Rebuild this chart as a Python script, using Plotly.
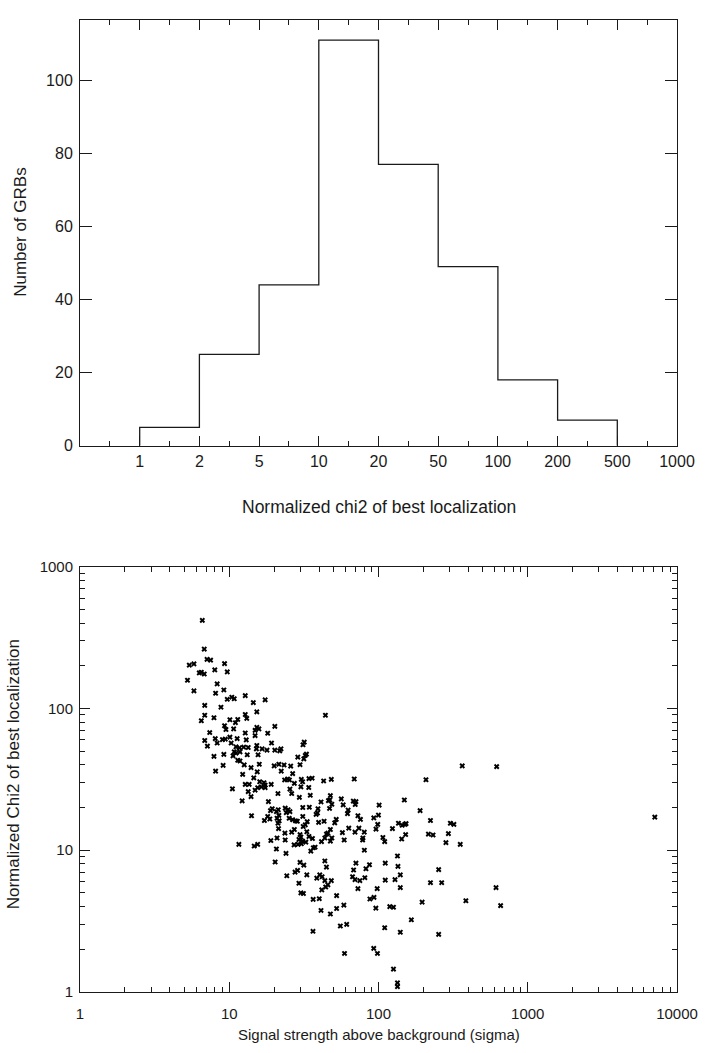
import plotly.graph_objects as go

# ---------------- data: histogram (top panel) ----------------
bin_edges = ["1", "2", "5", "10", "20", "50", "100", "200", "500", "1000"]
counts = [5, 25, 44, 111, 77, 49, 18, 7]

# ---------------- data: scatter (bottom panel) ----------------
signal = [
    6.6, 6.8, 7.1, 7.5, 5.4, 5.8, 9.3, 6.3, 6.5, 6.8,
    8.0, 9.7, 5.25, 8.3, 5.8, 8.1, 9.2, 10.4, 10.8, 9.7,
    12.8, 14.5, 17.4, 6.85, 8.8, 15.3, 6.85, 6.5, 7.9, 12.8,
    13.1, 44.1, 10.1, 11.4, 11.0, 9.3, 9.5, 10.7, 15.3, 15.8,
    14.9, 20.2, 7.4, 12.8, 18.1, 14.9, 8.06, 9.0, 9.4, 10.1,
    11.3, 6.85, 8.3, 10.3, 13.0, 19.2, 31.8, 31.2, 7.14, 11.1,
    11.7, 12.5, 13.4, 15.3, 15.2, 16.6, 17.9, 20.2, 22.2, 21.8,
    10.8, 11.1, 11.8, 13.2, 7.9, 9.2, 10.6, 15.6, 32.9, 32.3,
    28.8, 31.6, 11.4, 11.8, 9.1, 12.6, 14.0, 15.9, 20.0, 21.5,
    23.3, 25.8, 29.8, 8.1, 15.4, 22.3, 26.6, 12.3, 14.6, 23.5,
    24.6, 25.3, 30.4, 31.0, 34.2, 35.9, 42.9, 48.3, 16.0, 17.1,
    17.4, 27.3, 12.8, 13.6, 19.1, 16.4, 15.5, 17.4, 30.2, 34.1,
    25.5, 10.5, 14.9, 13.4, 21.2, 26.2, 14.0, 29.5, 34.9, 47.6,
    47.2, 56.3, 12.2, 18.3, 41.2, 46.2, 31.1, 34.4, 19.4, 18.9,
    21.3, 20.7, 23.7, 24.8, 25.5, 24.1, 39.3, 39.0, 38.2, 47.0,
    48.7, 58.0, 31.1, 18.1, 18.7, 17.2, 14.1, 21.5, 20.9, 21.6,
    21.2, 25.2, 26.6, 27.8, 28.6, 33.3, 32.3, 31.3, 39.7, 43.2,
    52.1, 50.9, 21.4, 47.6, 45.8, 44.8, 57.3, 23.6, 26.2, 27.3,
    29.8, 30.2, 29.3, 33.1, 34.2, 36.1, 20.9, 23.7, 19.0, 31.0,
    32.6, 41.5, 43.7, 48.7, 47.6, 58.9, 11.6, 14.7, 15.5, 27.2,
    28.9, 30.4, 20.7, 36.6, 35.2, 37.6, 24.0, 20.3, 29.8, 31.6,
    43.7, 44.8, 27.6, 28.7, 24.3, 33.1, 40.4, 38.6, 41.9, 43.7,
    45.8, 44.3, 48.3, 29.3, 30.2, 31.4, 41.7, 36.5, 40.1, 52.4,
    58.6, 41.2, 47.6, 52.4, 364, 68.8, 208, 67.8, 70.6, 69.8,
    101, 149, 62.6, 62.0, 190, 72.8, 75.7, 99.9, 93, 223,
    303, 320, 98.8, 96.2, 136, 150, 153, 144, 63.2, 73.9,
    124, 69.6, 80.3, 78.6, 78.3, 152, 143, 216, 232, 294,
    107, 110, 283, 353, 80.4, 134, 70.6, 87.0, 111, 135,
    68.1, 82.4, 253, 67.0, 69.6, 75.0, 81.0, 72.8, 98, 93.3,
    87.6, 111, 129, 140, 140, 223, 265, 96, 119, 126,
    196, 385, 613, 658, 166, 110, 140, 253, 55.5, 61.2,
    36.4, 92.9, 98.4, 59.2, 126, 134, 134, 619, 7100,
]
chi2 = [
    418, 262, 222, 219, 202, 206, 207, 178, 180, 175,
    187, 181, 158, 149, 133, 128, 135, 120, 117, 116,
    123, 110, 115, 105, 102, 94.6, 89.5, 81.9, 86, 90.6,
    85, 89.5, 83.2, 83.6, 79.3, 75.5, 71, 71.7, 73.6, 71.7,
    70, 74.8, 67.6, 67.1, 66.8, 64.3, 61.3, 60.3, 60.7, 62.7,
    61.3, 59.4, 57.0, 57.0, 60.0, 57.0, 57.8, 55.4, 54.2, 53.6,
    52.7, 53.3, 53.0, 54.8, 51.9, 51.9, 50.8, 50.8, 51.9, 50.2,
    49.4, 48.4, 49.4, 47.1, 45.9, 47.4, 46.3, 47.1, 47.6, 46.6,
    45.4, 44.1, 43.1, 42.6, 39.7, 40.0, 38.2, 40.4, 39.3, 40.4,
    39.9, 39.2, 40.1, 36.1, 35.7, 36.1, 34.7, 34.3, 32.4, 31.3,
    31.8, 31.3, 31.6, 30.4, 32.0, 32.2, 30.8, 31.6, 30.4, 29.9,
    28.8, 29.6, 29.1, 29.1, 29.1, 28.0, 27.6, 27.6, 28.0, 27.7,
    27.0, 27.1, 26.5, 25.9, 25.1, 25.1, 23.9, 23.6, 24.4, 24.3,
    22.6, 23.0, 22.3, 22.0, 21.9, 22.4, 20.0, 20.1, 19.6, 19.0,
    19.3, 18.7, 19.8, 19.3, 18.7, 18.4, 19.6, 18.3, 17.9, 19.7,
    21.1, 20.9, 17.3, 17.3, 16.6, 16.2, 17.5, 17.6, 16.8, 16.1,
    15.5, 16.8, 16.4, 16.1, 16.0, 15.9, 15.1, 14.7, 15.7, 16.0,
    16.5, 15.6, 14.2, 14.0, 13.2, 13.0, 13.3, 13.2, 13.4, 14.0,
    12.9, 12.4, 11.9, 13.5, 12.5, 12.1, 12.2, 11.8, 11.7, 11.6,
    11.4, 11.5, 12.2, 12.2, 11.6, 11.8, 11.0, 10.7, 11.0, 10.9,
    11.0, 11.1, 10.2, 10.4, 9.86, 10.5, 9.5, 8.26, 8.2, 7.85,
    8.4, 7.6, 7.0, 7.2, 6.6, 6.7, 6.7, 6.35, 6.5, 6.1,
    5.7, 5.5, 6.1, 5.85, 5.0, 4.95, 5.25, 4.5, 4.55, 4.78,
    4.1, 3.76, 3.55, 3.88, 39.3, 31.8, 31.4, 22.2, 22.0, 21.0,
    20.8, 22.6, 19.2, 18.1, 19.0, 17.5, 16.5, 17.7, 16.9, 16.2,
    15.5, 15.2, 15.2, 14.1, 15.5, 15.2, 15.4, 15.0, 14.3, 14.3,
    14.2, 13.4, 13.4, 12.2, 11.8, 12.9, 12.0, 13.0, 12.8, 13.1,
    12.3, 11.5, 11.3, 11.0, 10.0, 9.1, 8.1, 7.9, 8.1, 7.7,
    7.25, 7.4, 7.3, 6.5, 6.2, 6.1, 6.4, 5.36, 5.36, 4.65,
    4.53, 6.15, 6.2, 6.7, 5.45, 5.9, 5.9, 3.9, 4.0, 3.96,
    4.3, 4.4, 5.45, 4.07, 3.23, 2.84, 2.64, 2.55, 2.92, 3.0,
    2.68, 2.03, 1.87, 1.87, 1.45, 1.16, 1.09, 38.9, 17.1,
]

x_ticks = [1, 10, 100, 1000, 10000]
y_ticks = [1, 10, 100, 1000]
hist_yticks = [0, 20, 40, 60, 80, 100]

FONT = "Liberation Sans, Arial, Helvetica, sans-serif"
INK = "#1a1a1a"

# step outline of the histogram (bin index space, one unit per bin)
step_x = [0] + list(range(len(counts) + 1))
step_y = [0] + counts + [0]

fig = go.Figure()
fig.add_trace(go.Scatter(
    x=step_x, y=step_y, mode="lines", line_shape="hv",
    line=dict(color=INK, width=1.3), xaxis="x", yaxis="y",
    showlegend=False, hoverinfo="skip"))

fig.add_trace(go.Scatter(
    x=signal, y=chi2, mode="markers",
    marker=dict(symbol="x", size=5, color="black",
                line=dict(width=0)),
    xaxis="x2", yaxis="y2", showlegend=False))

minor_log = lambda decades: [k * 10 ** d for d in range(decades) for k in range(2, 10)]

axis_common = dict(showline=True, linecolor=INK, linewidth=1, mirror="allticks",
                   ticks="inside", tickcolor=INK, showgrid=False, zeroline=False,
                   tickfont=dict(family=FONT, size=16, color=INK))

fig.update_layout(
    width=709, height=1053,
    margin=dict(l=80, r=22, t=11, b=61),
    paper_bgcolor="white", plot_bgcolor="white",
    font=dict(family=FONT, color=INK),
    xaxis=dict(axis_common, domain=[0, 1], anchor="y", range=[-1, 9],
               tickmode="array", tickvals=list(range(-1, len(bin_edges))),
               ticktext=[""] + bin_edges, ticklen=10, ticklabelstandoff=1,
               minor=dict(tickmode="linear", tick0=-1, dtick=0.5, ticks="inside",
                          ticklen=5, tickcolor=INK)),
    yaxis=dict(axis_common, domain=[0.562, 1], anchor="x", range=[0, 116.5],
               tickmode="array", tickvals=hist_yticks, ticklen=12,
               ticklabelstandoff=3),
    xaxis2=dict(axis_common, domain=[0, 1], anchor="y2", type="log", range=[0, 4],
                tickmode="array", tickvals=x_ticks, ticktext=[str(v) for v in x_ticks],
                ticklen=10, ticklabelstandoff=8,
                tickfont=dict(family=FONT, size=15, color=INK),
                minor=dict(tickmode="array", tickvals=minor_log(4), ticks="inside",
                           ticklen=5, tickcolor=INK)),
    yaxis2=dict(axis_common, domain=[0, 0.4376], anchor="x2", type="log", range=[0, 3],
                tickmode="array", tickvals=y_ticks, ticktext=[str(v) for v in y_ticks],
                ticklen=10, ticklabelstandoff=3,
                tickfont=dict(family=FONT, size=15, color=INK),
                minor=dict(tickmode="array", tickvals=minor_log(3), ticks="inside",
                           ticklen=5, tickcolor=INK)),
    annotations=[
        dict(text="Normalized chi2 of best localization", xref="paper", yref="paper",
             x=0.5, y=0.4985, xanchor="center", yanchor="middle", showarrow=False,
             font=dict(family=FONT, size=17.5, color=INK)),
        dict(text="Number of GRBs", xref="paper", yref="paper", textangle=-90,
             x=-0.099, y=0.782, xanchor="center", yanchor="middle", showarrow=False,
             font=dict(family=FONT, size=17, color=INK)),
        dict(text="Signal strength above background (sigma)", xref="paper", yref="paper",
             x=0.5, y=-0.0435, xanchor="center", yanchor="middle", showarrow=False,
             font=dict(family=FONT, size=15, color=INK)),
        dict(text="Normalized Chi2 of best localization", xref="paper", yref="paper",
             textangle=-90, x=-0.111, y=0.2237, xanchor="center", yanchor="middle",
             showarrow=False, font=dict(family=FONT, size=17, color=INK)),
    ],
)

fig.write_html("out.html")
